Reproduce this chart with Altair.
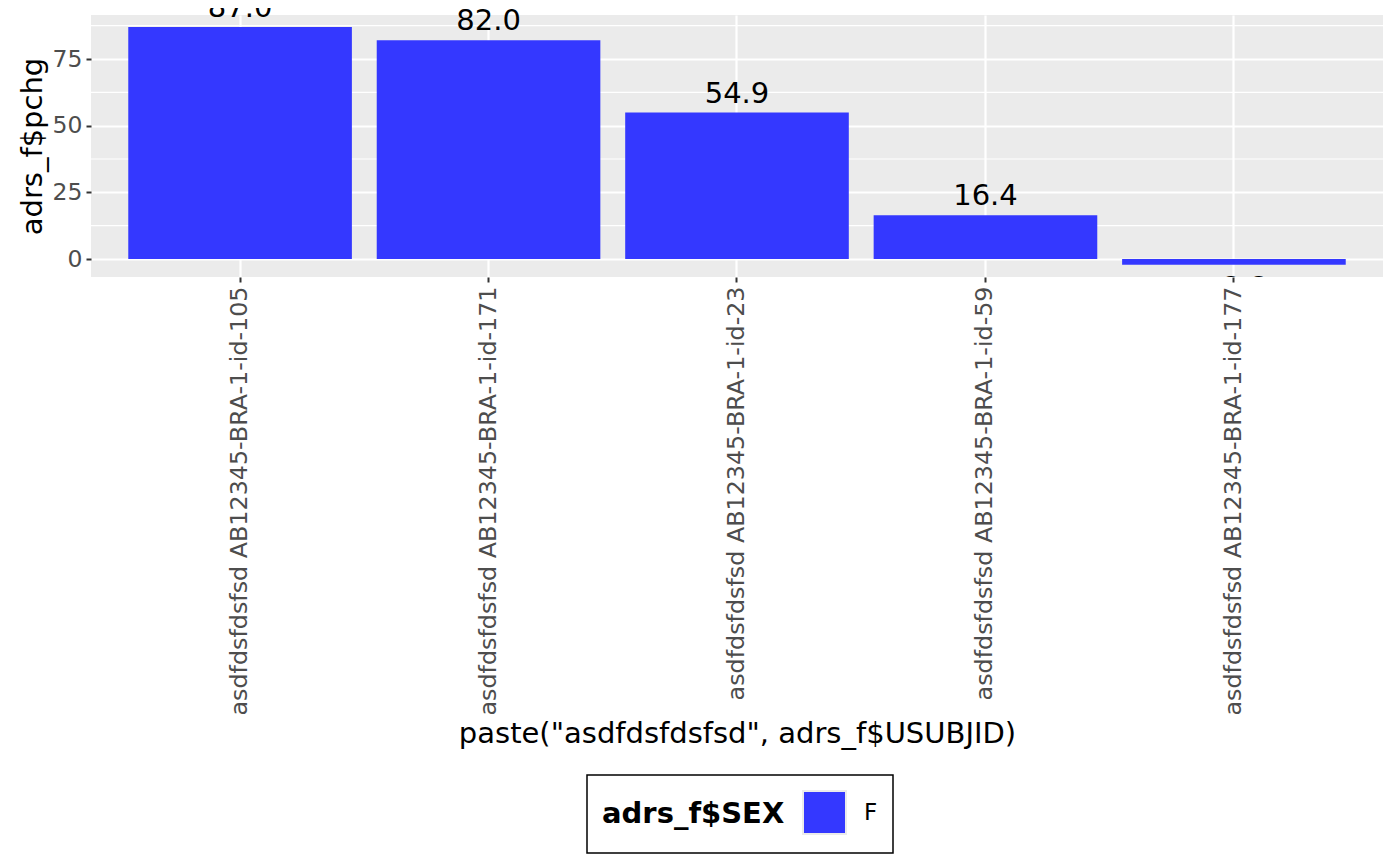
import pandas as pd
import altair as alt

# values
subjects = [
    "asdfdsfdsfsd AB12345-BRA-1-id-105",
    "asdfdsfdsfsd AB12345-BRA-1-id-171",
    "asdfdsfdsfsd AB12345-BRA-1-id-23",
    "asdfdsfdsfsd AB12345-BRA-1-id-59",
    "asdfdsfdsfsd AB12345-BRA-1-id-177",
]
pchg = [87.0, 82.0, 54.9, 16.4, -2.2]
sex = ["F", "F", "F", "F", "F"]
y_ticks = [0, 25, 50, 75]
y_minor = [12.5, 37.5, 62.5, 87.5]

FONT = "DejaVu Sans"
BLUE = "#3438FF"

df = pd.DataFrame({"subj": subjects, "pchg": pchg, "sex": sex})
minor = pd.DataFrame({"v": y_minor})

x_enc = alt.X(
    "subj:N",
    sort=subjects,
    title='paste("asdfdsfdsfsd", adrs_f$USUBJID)',
    scale=alt.Scale(paddingInner=0.1, paddingOuter=0.15),
    axis=alt.Axis(
        labelAngle=270,
        labelFontSize=23.8,
        labelColor="#4D4D4D",
        labelPadding=4,
        labelLimit=0,
        bandPosition=0.5,
        grid=True,
        gridColor="white",
        gridWidth=2.2,
        domain=False,
        tickColor="#333333",
        tickWidth=2,
        tickSize=5,
        titleFontSize=29,
        titleFontWeight="normal",
        titleColor="black",
        titleBaseline="alphabetic",
        titleY=465,
    ),
)
y_scale = alt.Scale(domain=[-6.75, 91.5], nice=False, zero=False)
y_enc = alt.Y(
    "pchg:Q",
    title="adrs_f$pchg",
    scale=y_scale,
    axis=alt.Axis(
        values=y_ticks,
        labelFontSize=23.5,
        labelColor="#4D4D4D",
        labelPadding=4,
        grid=True,
        gridColor="white",
        gridWidth=2.2,
        domain=False,
        tickColor="#333333",
        tickWidth=2,
        tickSize=5,
        titleFontSize=29,
        titleFontWeight="normal",
        titleColor="black",
        titleAngle=270,
        titleBaseline="alphabetic",
        titleX=-50,
        titleY=131,
    ),
)

minor_grid = (
    alt.Chart(minor)
    .mark_rule(color="white", strokeWidth=1.1)
    .encode(y=alt.Y("v:Q", scale=y_scale))
)

bars = (
    alt.Chart(df)
    .mark_bar()
    .encode(
        x=x_enc,
        y=y_enc,
        y2=alt.datum(0),
        color=alt.Color(
            "sex:N",
            title="adrs_f$SEX",
            scale=alt.Scale(domain=["F"], range=[BLUE]),
            legend=alt.Legend(
                orient="none",
                legendX=496,
                legendY=760,
                direction="horizontal",
                titleOrient="left",
                titleAnchor="middle",
                titleBaseline="middle",
                titleFontSize=29,
                titleFontWeight="bold",
                titleColor="black",
                titleLimit=0,
                titlePadding=17,
                labelFontSize=23,
                labelColor="black",
                labelOffset=17,
                symbolType="square",
                symbolSize=1849,
                symbolStrokeColor="#EBEBEB",
                symbolStrokeWidth=2,
                symbolOpacity=1,
                padding=15,
                strokeColor="black",
                fillColor="white",
            ),
        ),
    )
)

labels_pos = (
    alt.Chart(df)
    .transform_filter("datum.pchg >= 0")
    .mark_text(font=FONT, fontSize=29, color="black", baseline="alphabetic", dy=-10)
    .encode(
        x=alt.X("subj:N", sort=subjects),
        y=alt.Y("pchg:Q", scale=y_scale),
        text=alt.Text("pchg:Q", format=".1f"),
    )
)

labels_neg = (
    alt.Chart(df)
    .transform_filter("datum.pchg < 0")
    .mark_text(font=FONT, fontSize=29, color="black", baseline="top", dy=9, clip=True)
    .encode(
        x=alt.X("subj:N", sort=subjects),
        y=alt.Y("pchg:Q", scale=y_scale),
        text=alt.Text("pchg:Q", format=".1f"),
    )
)

chart = (
    alt.layer(minor_grid, bars, labels_pos, labels_neg)
    .properties(
        width=1292,
        height=262,
        autosize=alt.AutoSizeParams(type="none"),
        padding={"left": 83, "top": 7, "right": 9, "bottom": 581},
    )
    .configure(font=FONT)
    .configure_view(fill="#EBEBEB", stroke=None)
    .configure_legend(strokeWidth=1.5, cornerRadius=0)
)

chart.save("out.html", embed_options={"renderer": "svg", "actions": False})
